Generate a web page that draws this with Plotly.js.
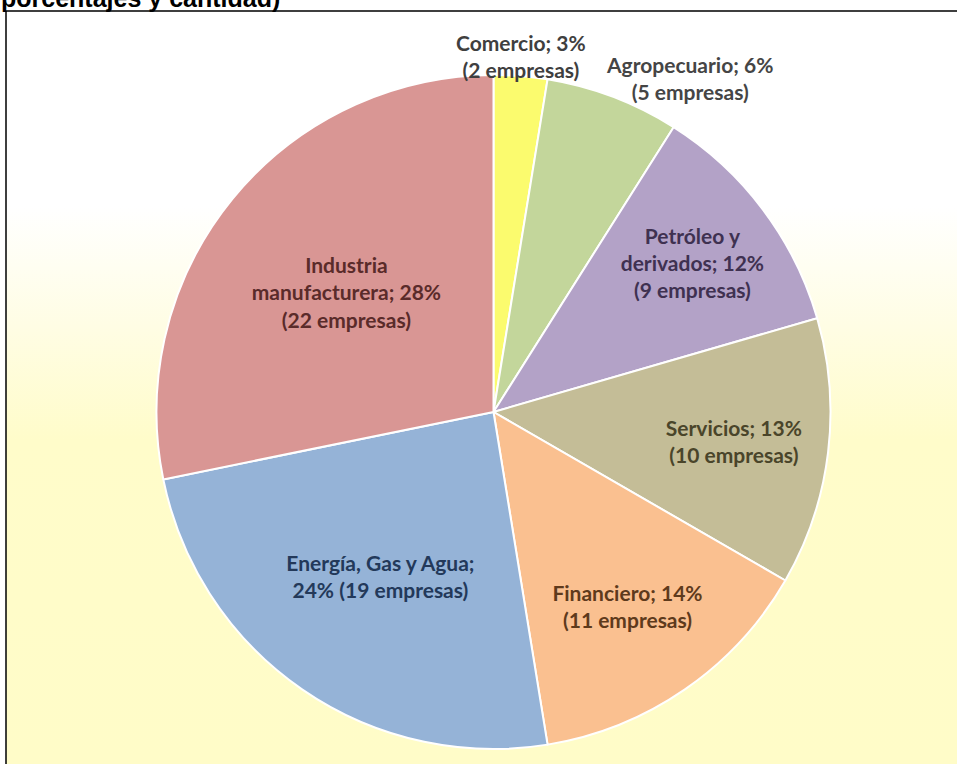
<!DOCTYPE html>
<html>
<head>
<meta charset="utf-8">
<script src="https://cdn.plot.ly/plotly-3.0.1.min.js"></script>
<style>
  html, body { margin: 0; padding: 0; background: #ffffff; }
  #wrap { position: relative; width: 957px; height: 764px; overflow: hidden; }
  #bg { position: absolute; left: 6px; top: 10px; width: 951px; height: 754px;
        background: linear-gradient(to bottom, #ffffff 0%, #ffffff 26%, #fffde4 42%, #fffcca 57%, #fffcc8 100%); }
  #chart { position: absolute; left: 0; top: 0; width: 957px; height: 764px; }
</style>
</head>
<body>
<div id="wrap">
  <div id="bg"></div>
  <div id="chart"></div>
</div>
<script>
// Data (clockwise from 12 o'clock)
const categories = ["Comercio", "Agropecuario", "Petróleo y derivados", "Servicios", "Financiero", "Energía, Gas y Agua", "Industria manufacturera"];
const counts = [2, 5, 9, 10, 11, 19, 22];
const labelText = [
  "Comercio; 3%<br>(2 empresas)",
  "Agropecuario; 6%<br>(5 empresas)",
  "Petróleo y<br>derivados; 12%<br>(9 empresas)",
  "Servicios; 13%<br>(10 empresas)",
  "Financiero; 14%<br>(11 empresas)",
  "Energía, Gas y Agua;<br>24% (19 empresas)",
  "Industria<br>manufacturera; 28%<br>(22 empresas)"
];
const outsideLabel = [true, true, false, false, false, false, false];
const sliceColors = ["#FBFB6E", "#C3D69B", "#B3A2C7", "#C4BD97", "#FAC090", "#95B3D7", "#D99694"];
const textColors = ["#3F3F3F", "#454545", "#3F3151", "#4A452A", "#5E3A1C", "#23395A", "#5A2B2A"];
const titleText = "porcentajes y cantidad)";

const W = 957, H = 764;
const cx = 493.5, cy = 412, R = 337;
const FONT = "Lato, 'Open Sans', sans-serif";
const FS = 21;

const trace = {
  type: "pie",
  labels: categories,
  values: counts,
  text: labelText,
  textinfo: "text",
  textposition: outsideLabel.map(o => o ? "none" : "inside"),
  insidetextorientation: "horizontal",
  sort: false,
  direction: "clockwise",
  rotation: 0,
  marker: { colors: sliceColors, line: { color: "#ffffff", width: 2 } },
  textfont: { family: FONT, size: FS, weight: "bold", color: textColors },
  insidetextfont: { family: FONT, size: FS, weight: "bold", color: textColors },
  domain: { x: [(cx - R) / W, (cx + R) / W], y: [1 - (cy + R) / H, 1 - (cy - R) / H] },
  hoverinfo: "label+value+percent",
  showlegend: false
};

// Outside labels: anchored at the arc point of each slice's mid-angle (derived from counts)
const total = counts.reduce((a, b) => a + b, 0);
const annotations = [];
let cum = 0;
counts.forEach((v, i) => {
  const mid = (cum + v / 2) / total * 2 * Math.PI;
  cum += v;
  if (!outsideLabel[i]) return;
  const px = cx + R * Math.sin(mid);
  const py = cy - R * Math.cos(mid);
  const nearTop = Math.sin(mid) < 0.2;
  annotations.push({
    text: "<b>" + labelText[i] + "</b>",
    xref: "paper", yref: "paper",
    x: px / W, y: 1 - py / H,
    xanchor: nearTop ? "center" : "left",
    yanchor: "bottom",
    xshift: nearTop ? 0 : -8,
    yshift: nearTop ? -7 : -8,
    showarrow: false, borderpad: 0,
    font: { family: FONT, size: FS, color: textColors[i] }
  });
});
annotations.push({
  text: "<b>" + titleText + "</b>",
  xref: "paper", yref: "paper",
  x: 0, y: 1 - 10 / H, xanchor: "left", yanchor: "bottom",
  yshift: -3,
  showarrow: false, borderpad: 0,
  font: { family: "Liberation Sans, Arial, sans-serif", size: 25, color: "#000000" }
});

const layout = {
  width: W, height: H,
  margin: { l: 0, r: 0, t: 0, b: 0, pad: 0 },
  paper_bgcolor: "rgba(0,0,0,0)",
  plot_bgcolor: "rgba(0,0,0,0)",
  showlegend: false,
  shapes: [{
    type: "rect", xref: "paper", yref: "paper",
    x0: 6 / W, x1: 1.02, y0: -0.02, y1: 1 - 11 / H,
    line: { color: "#000000", width: 1.5 }, fillcolor: "rgba(0,0,0,0)"
  }],
  annotations: annotations
};

Plotly.newPlot("chart", [trace], layout, { displayModeBar: false, staticPlot: true });
</script>
</body>
</html>
